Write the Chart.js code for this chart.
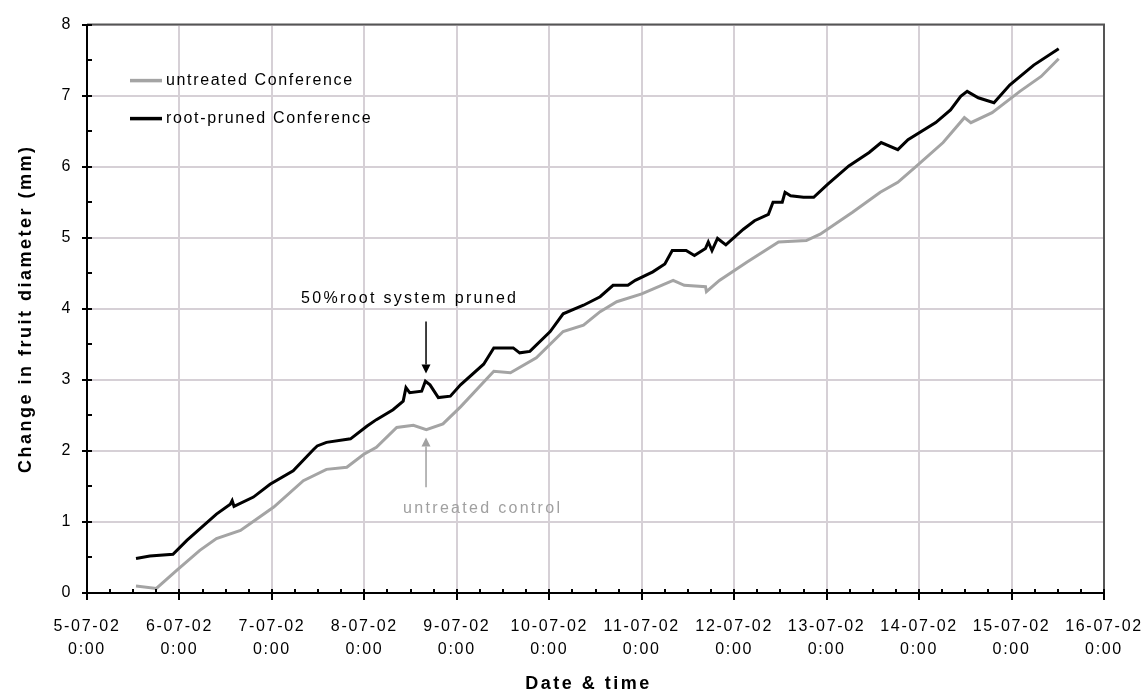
<!DOCTYPE html>
<html><head><meta charset="utf-8">
<script src="https://cdn.jsdelivr.net/npm/chart.js@4.4.1/dist/chart.umd.min.js"></script>
<style>html,body{margin:0;padding:0;background:#fff;}canvas{display:block;}</style>
</head><body>
<canvas id="c" width="1148" height="695"></canvas>
<script>
// ---- data ----
const dateLabels = ['5-07-02','6-07-02','7-07-02','8-07-02','9-07-02','10-07-02','11-07-02','12-07-02','13-07-02','14-07-02','15-07-02','16-07-02'];
const timeLabel = '0:00';
const seriesLabels = ['untreated Conference', 'root-pruned Conference'];
const xTitle = 'Date & time';
const yTitle = 'Change in fruit diameter (mm)';
const noteTexts = ['50%root system pruned', 'untreated control'];

// days since 5-07-02 0:00
const untreatedDays = [0.53,0.75,0.97,1.22,1.40,1.66,1.84,2.02,2.34,2.59,2.81,2.99,3.13,3.35,3.53,3.67,3.85,4.04,4.40,4.58,4.86,5.15,5.37,5.55,5.73,6.00,6.34,6.46,6.69,6.70,6.84,7.14,7.48,7.78,7.93,8.28,8.58,8.77,8.99,9.26,9.49,9.56,9.79,10.09,10.32,10.51];
const untreatedValues = [0.10,0.065,0.32,0.60,0.765,0.88,1.045,1.21,1.58,1.74,1.77,1.95,2.05,2.33,2.36,2.30,2.38,2.62,3.12,3.10,3.31,3.68,3.77,3.96,4.10,4.21,4.40,4.33,4.31,4.24,4.40,4.66,4.94,4.96,5.05,5.36,5.64,5.78,6.03,6.34,6.69,6.62,6.76,7.06,7.27,7.52];

const prunedDays = [0.53,0.68,0.93,1.08,1.40,1.55,1.57,1.59,1.80,1.98,2.23,2.45,2.49,2.59,2.85,3.03,3.13,3.31,3.42,3.45,3.49,3.62,3.66,3.71,3.80,3.93,4.04,4.29,4.40,4.61,4.68,4.79,5.01,5.15,5.37,5.55,5.69,5.85,5.93,6.12,6.25,6.33,6.48,6.57,6.69,6.72,6.76,6.82,6.91,7.10,7.22,7.37,7.42,7.52,7.55,7.61,7.75,7.86,8.01,8.24,8.46,8.59,8.77,8.88,9.18,9.34,9.45,9.52,9.64,9.81,9.98,10.24,10.51];
const prunedValues = [0.485,0.52,0.545,0.74,1.11,1.25,1.30,1.22,1.35,1.53,1.72,2.02,2.07,2.12,2.17,2.35,2.44,2.58,2.70,2.89,2.82,2.84,2.98,2.93,2.75,2.77,2.93,3.22,3.45,3.45,3.38,3.40,3.68,3.93,4.05,4.17,4.33,4.33,4.40,4.52,4.63,4.82,4.82,4.75,4.85,4.94,4.82,4.99,4.90,5.12,5.24,5.33,5.50,5.50,5.64,5.59,5.57,5.57,5.75,6.01,6.20,6.34,6.24,6.38,6.62,6.80,6.99,7.06,6.97,6.90,7.15,7.43,7.66];

// ---- rendering ----
const FONT = 'Arial, "Liberation Sans", sans-serif';
function spacing(ctx, px){ if ('letterSpacing' in ctx) ctx.letterSpacing = px + 'px'; }
const BASE_SP = 1.7;

function arrow(ctx, x0, y0, x1, y1, color){
  ctx.strokeStyle = color; ctx.fillStyle = color; ctx.lineWidth = 1.5;
  const ang = Math.atan2(y1 - y0, x1 - x0), hl = 9, hw = 4.5;
  const bx = x1 - hl*Math.cos(ang), by = y1 - hl*Math.sin(ang);
  ctx.beginPath(); ctx.moveTo(x0, y0); ctx.lineTo(bx, by); ctx.stroke();
  ctx.beginPath(); ctx.moveTo(x1, y1);
  ctx.lineTo(bx + hw*Math.sin(ang), by - hw*Math.cos(ang));
  ctx.lineTo(bx - hw*Math.sin(ang), by + hw*Math.cos(ang));
  ctx.closePath(); ctx.fill();
}

const decor = {
  id: 'decor',
  beforeLayout(chart){ spacing(chart.ctx, BASE_SP); },
  beforeDraw(chart){
    const ctx = chart.ctx; spacing(ctx, BASE_SP);
    ctx.save(); ctx.fillStyle = '#fff'; ctx.fillRect(0,0,chart.width,chart.height); ctx.restore();
  },
  afterDraw(chart, args, o){
    const {ctx, chartArea: a, scales: {x, y}} = chart;
    ctx.save();
    // top & right frame
    ctx.strokeStyle = '#555'; ctx.lineWidth = 2;
    ctx.beginPath(); ctx.moveTo(a.left, a.top); ctx.lineTo(a.right, a.top); ctx.lineTo(a.right, a.bottom); ctx.stroke();
    // tick marks
    ctx.strokeStyle = '#000'; ctx.lineWidth = 2;
    for (let d = x.min; d <= x.max + 1e-6; d += 0.25) {
      const px = Math.round(x.getPixelForValue(d));
      const major = Math.abs(d - Math.round(d)) < 1e-6;
      ctx.beginPath(); ctx.moveTo(px, a.bottom - 4); ctx.lineTo(px, a.bottom + (major ? 7 : 0)); ctx.stroke();
    }
    for (let v = y.min; v <= y.max + 1e-6; v += 0.5) {
      const py = Math.round(y.getPixelForValue(v));
      const major = Math.abs(v - Math.round(v)) < 1e-6;
      ctx.beginPath(); ctx.moveTo(a.left - (major ? 5 : 0), py); ctx.lineTo(a.left + 5, py); ctx.stroke();
    }
    // legend
    ctx.font = '16px ' + FONT; ctx.textBaseline = 'middle'; ctx.textAlign = 'left';
    spacing(ctx, 1.65);
    chart.data.datasets.forEach((ds, i) => {
      const ly = a.top + o.legend.top + i * o.legend.gap;
      ctx.strokeStyle = ds.borderColor; ctx.lineWidth = 3.5;
      ctx.beginPath(); ctx.moveTo(a.left + o.legend.left, ly); ctx.lineTo(a.left + o.legend.left + 32, ly); ctx.stroke();
      ctx.fillStyle = '#000';
      ctx.fillText(ds.label, a.left + o.legend.left + 36, ly);
    });
    // annotations
    spacing(ctx, 2.3);
    o.notes.forEach(n => {
      const ax = x.getPixelForValue(n.arrowX);
      arrow(ctx, ax, y.getPixelForValue(n.arrowFrom), ax, y.getPixelForValue(n.arrowTo), n.color);
      ctx.fillStyle = n.color; ctx.textAlign = 'center'; ctx.textBaseline = 'middle';
      ctx.fillText(n.text, x.getPixelForValue(n.textX), y.getPixelForValue(n.textY));
    });
    // axis titles
    ctx.fillStyle = '#000'; ctx.font = 'bold 18px ' + FONT; spacing(ctx, 2.5);
    ctx.textAlign = 'center'; ctx.textBaseline = 'middle';
    ctx.fillText(xTitle, (a.left + a.right) / 2 + o.xTitle.dx, o.xTitle.y);
    ctx.save();
    ctx.translate(o.yTitle.x, (a.top + a.bottom) / 2);
    ctx.rotate(-Math.PI / 2);
    ctx.fillText(yTitle, 0, 0);
    ctx.restore();
    ctx.restore();
    spacing(ctx, BASE_SP);
  }
};

const toPts = (xs, ys) => xs.map((d, i) => ({x: d, y: ys[i]}));

Chart.defaults.color = '#000';
Chart.defaults.font.family = FONT;

new Chart(document.getElementById('c'), {
  type: 'line',
  data: {
    datasets: [
      {label: seriesLabels[0], data: toPts(untreatedDays, untreatedValues), borderColor: '#a4a4a4', borderWidth: 3, pointRadius: 0, tension: 0, fill: false},
      {label: seriesLabels[1], data: toPts(prunedDays, prunedValues), borderColor: '#000000', borderWidth: 3, pointRadius: 0, tension: 0, fill: false}
    ]
  },
  options: {
    responsive: false, animation: false, devicePixelRatio: 1,
    layout: {padding: {top: 21, right: 44, bottom: 0, left: 0}},
    plugins: {
      legend: {display: false}, tooltip: {enabled: false},
      decor: {
        legend: {left: 43, top: 56, gap: 38},
        notes: [
          {text: noteTexts[0], color: '#000', arrowX: 3.667, arrowFrom: 3.82, arrowTo: 3.09, textX: 3.49, textY: 4.14},
          {text: noteTexts[1], color: '#a0a0a0', arrowX: 3.667, arrowFrom: 1.49, arrowTo: 2.19, textX: 4.28, textY: 1.19}
        ],
        xTitle: {dx: -7, y: 684},
        yTitle: {x: 26}
      }
    },
    scales: {
      x: {
        type: 'linear', min: 0, max: 11,
        afterFit: s => { s.height = 102; s.paddingLeft = 0; s.paddingRight = 0; },
        grid: {color: '#d6d0d6', lineWidth: 2, drawTicks: false},
        border: {color: '#000', width: 2},
        ticks: {
          stepSize: 1, autoSkip: false, maxRotation: 0, padding: 22,
          font: {size: 16, lineHeight: 1.4375},
          callback: v => [dateLabels[v], timeLabel]
        }
      },
      y: {
        min: 0, max: 8,
        afterFit: s => { s.width = 87; },
        grid: {color: '#d6d0d6', lineWidth: 2, drawTicks: false},
        border: {color: '#000', width: 2},
        ticks: {stepSize: 1, padding: 15, font: {size: 16}}
      }
    }
  },
  plugins: [decor]
});
</script>
</body></html>
